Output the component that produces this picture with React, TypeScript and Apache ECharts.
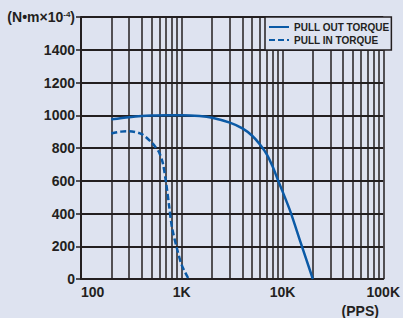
import React, { useEffect, useRef } from "react";
import * as echarts from "echarts";

const pullOutTorque: [number, number][] = [
  [200, 975], [300, 988], [400, 995], [500, 998], [700, 1000], [1000, 1000],
  [1500, 995], [2000, 985], [3000, 955], [4000, 920], [5000, 875], [6000, 820],
  [7000, 760], [8000, 685], [9000, 605], [10000, 535], [12000, 410], [15000, 230],
  [20000, 0],
];
const pullInTorque: [number, number][] = [
  [200, 888], [250, 900], [300, 902], [400, 885], [500, 835], [550, 805],
  [600, 770], [650, 705], [700, 585], [750, 445], [800, 315], [900, 182],
  [1000, 85], [1170, 0],
];
const xTickValues = [100, 1000, 10000, 100000];
const xTickLabels = ["100", "1K", "10K", "100K"];
const minorGridValues = [
  200, 300, 400, 500, 600, 700, 800, 900,
  2000, 3000, 4000, 5000, 6000, 7000, 8000, 9000,
  20000, 30000, 40000, 50000, 60000, 70000, 80000, 90000,
];
const seriesNames = ["PULL OUT TORQUE", "PULL IN TORQUE"];
const yUnit = "(N•m×10";
const yUnitExp = "-4";
const xName = "(PPS)";

const INK = "#231f20";
const BLUE = "#0b5aa6";
const BG = "#dee3f0";

export default function App() {
  const ref = useRef<HTMLDivElement>(null);
  useEffect(() => {
    document.body.style.margin = "0";
    document.body.style.background = BG;
    const chart = echarts.init(ref.current!, null, { renderer: "svg" });
    chart.setOption({
      animation: false,
      backgroundColor: BG,
      textStyle: { fontFamily: "Arial, 'Liberation Sans', sans-serif" },
      grid: { left: 81, right: 13, top: 17, bottom: 34, containLabel: false },
      legend: {
        data: seriesNames,
        orient: "vertical",
        left: 265,
        top: 17,
        z: 10,
        padding: [5, 2, 5, 3],
        itemWidth: 20,
        itemHeight: 10,
        itemGap: 3,
        backgroundColor: BG,
        borderColor: INK,
        borderWidth: 1.5,
        borderRadius: 0,
        itemStyle: { opacity: 0 },
        textStyle: {
          color: INK,
          fontWeight: "bold",
          fontSize: 10,
          fontFamily: "'Liberation Sans', Arial, sans-serif",
        },
      },
      xAxis: {
        type: "log",
        logBase: 10,
        min: 100,
        max: 100000,
        name: xName,
        nameLocation: "end",
        nameGap: -23,
        nameTextStyle: {
          color: INK,
          fontWeight: "bold",
          fontSize: 14,
          align: "center",
          verticalAlign: "top",
          padding: [25, 0, 0, 0],
        },
        axisLine: { lineStyle: { color: INK, width: 2 } },
        axisTick: { show: false },
        splitLine: { show: true, lineStyle: { color: INK, width: 1.5 } },
        axisLabel: {
          color: INK,
          fontWeight: "bold",
          fontSize: 14,
          margin: 6,
          alignMinLabel: "left",
          formatter: (v: number) => {
            const i = xTickValues.indexOf(v);
            return i >= 0 ? xTickLabels[i] : "";
          },
        },
      },
      yAxis: {
        type: "value",
        min: 0,
        max: 1600,
        interval: 200,
        axisLine: { show: true, lineStyle: { color: INK, width: 2 } },
        axisTick: { show: true, length: 5, lineStyle: { color: INK, width: 1.5 } },
        splitLine: { show: true, lineStyle: { color: INK, width: 1.8 } },
        axisLabel: {
          color: INK,
          fontWeight: "bold",
          fontSize: 14,
          margin: 6,
          formatter: (v: number) => (v === 1600 ? `{u|${yUnit}}{s|${yUnitExp}}{u|)}` : String(v)),
          rich: {
            u: { fontSize: 14, fontWeight: "bold", color: INK },
            s: { fontSize: 8, fontWeight: "bold", color: INK, verticalAlign: "top", padding: [0, 0, 6, 0] },
          },
        },
      },
      series: [
        {
          name: "grid",
          type: "line",
          data: [],
          z: 1,
          silent: true,
          markLine: {
            z: 1,
            silent: true,
            symbol: ["none", "none"],
            label: { show: false },
            lineStyle: { color: INK, width: 1.5, type: "solid" },
            data: minorGridValues.map((v) => ({ xAxis: v })),
          },
        },
        {
          name: seriesNames[0],
          type: "line",
          data: pullOutTorque,
          smooth: 0.3,
          symbol: "none",
          z: 3,
          lineStyle: { color: BLUE, width: 2.5 },
          itemStyle: { color: BLUE },
        },
        {
          name: seriesNames[1],
          type: "line",
          data: pullInTorque,
          smooth: 0.3,
          symbol: "none",
          z: 3,
          lineStyle: { color: BLUE, width: 2.5, type: [6, 3] },
          itemStyle: { color: BLUE },
        },
      ],
    });
    return () => chart.dispose();
  }, []);
  return <div ref={ref} style={{ width: 403, height: 318 }} />;
}
